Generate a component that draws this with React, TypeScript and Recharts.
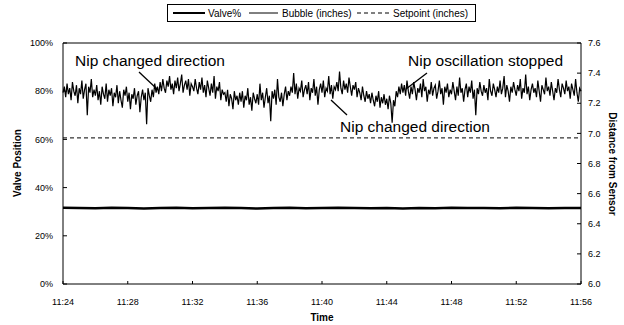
import { LineChart, Line, XAxis, YAxis, ReferenceLine } from 'recharts';

// minutes after 11:24, tick labels every 4 minutes
const TIME_TICKS = [0, 4, 8, 12, 16, 20, 24, 28, 32];
const TIME_LABELS = ['11:24', '11:28', '11:32', '11:36', '11:40', '11:44', '11:48', '11:52', '11:56'];

const VALVE_TICKS = [0, 20, 40, 60, 80, 100];
const DIST_TICKS = [6.0, 6.2, 6.4, 6.6, 6.8, 7.0, 7.2, 7.4, 7.6];

// Valve% sampled every minute
const VALVE = [
  31.6, 31.5, 31.4, 31.6, 31.5, 31.3, 31.5, 31.6, 31.4, 31.5, 31.6,
  31.5, 31.3, 31.5, 31.6, 31.4, 31.5, 31.6, 31.5, 31.4, 31.5, 31.3,
  31.5, 31.4, 31.6, 31.5, 31.5, 31.4, 31.6, 31.5, 31.4, 31.5, 31.5,
];

// Bubble (inches) sampled every 5 seconds, one row per minute
const BUBBLE = [
  7.27, 7.31, 7.24, 7.33, 7.26, 7.30, 7.22, 7.34, 7.28, 7.25, 7.32, 7.20,
  7.30, 7.26, 7.35, 7.23, 7.29, 7.33, 7.12, 7.31, 7.27, 7.36, 7.24, 7.29,
  7.25, 7.32, 7.22, 7.28, 7.19, 7.31, 7.26, 7.23, 7.33, 7.21, 7.29, 7.25,
  7.30, 7.18, 7.27, 7.24, 7.32, 7.20, 7.28, 7.22, 7.17, 7.29, 7.25, 7.31,
  7.21, 7.27, 7.16, 7.26, 7.23, 7.30, 7.19, 7.25, 7.28, 7.14, 7.24, 7.29,
  7.22, 7.27, 7.06, 7.30, 7.25, 7.21, 7.29, 7.24, 7.33, 7.27, 7.31, 7.26,
  7.34, 7.28, 7.36, 7.30, 7.27, 7.35, 7.31, 7.38, 7.29, 7.33, 7.26, 7.35,
  7.30, 7.37, 7.28, 7.33, 7.39, 7.27, 7.32, 7.35, 7.29, 7.36, 7.25, 7.33,
  7.31, 7.28, 7.36, 7.30, 7.26, 7.34, 7.29, 7.37, 7.27, 7.32, 7.24, 7.35,
  7.30, 7.25, 7.33, 7.27, 7.38, 7.23, 7.31, 7.28, 7.34, 7.22, 7.29, 7.26,
  7.27, 7.21, 7.29, 7.18, 7.26, 7.23, 7.16, 7.28, 7.22, 7.25, 7.19, 7.27,
  7.21, 7.28, 7.17, 7.25, 7.22, 7.30, 7.19, 7.24, 7.15, 7.27, 7.23, 7.20,
  7.26, 7.19, 7.33, 7.22, 7.27, 7.17, 7.24, 7.30, 7.20, 7.25, 7.08, 7.28,
  7.23, 7.29, 7.19, 7.36, 7.24, 7.21, 7.27, 7.18, 7.26, 7.31, 7.22, 7.28,
  7.25, 7.31, 7.27, 7.40, 7.26, 7.33, 7.23, 7.30, 7.28, 7.35, 7.24, 7.29,
  7.32, 7.26, 7.34, 7.22, 7.30, 7.27, 7.36, 7.25, 7.31, 7.19, 7.29, 7.33,
  7.27, 7.35, 7.24, 7.30, 7.28, 7.38, 7.26, 7.32, 7.23, 7.31, 7.29, 7.34,
  7.28, 7.41, 7.30, 7.26, 7.35, 7.29, 7.33, 7.27, 7.37, 7.31, 7.25, 7.32,
  7.29, 7.34, 7.24, 7.30, 7.27, 7.22, 7.31, 7.25, 7.21, 7.28, 7.23, 7.26,
  7.20, 7.27, 7.22, 7.18, 7.25, 7.21, 7.28, 7.17, 7.24, 7.20, 7.26, 7.19,
  7.23, 7.16, 7.25, 7.20, 7.07, 7.22, 7.18, 7.28, 7.24, 7.31, 7.26, 7.33,
  7.27, 7.32, 7.25, 7.35, 7.28, 7.23, 7.31, 7.26, 7.34, 7.29, 7.22, 7.30,
  7.27, 7.33, 7.24, 7.36, 7.28, 7.31, 7.21, 7.29, 7.26, 7.34, 7.25, 7.30,
  7.32, 7.23, 7.28, 7.35, 7.26, 7.30, 7.19, 7.31, 7.27, 7.33, 7.24, 7.29,
  7.26, 7.34, 7.28, 7.22, 7.31, 7.25, 7.37, 7.27, 7.30, 7.21, 7.29, 7.33,
  7.24, 7.31, 7.27, 7.35, 7.23, 7.29, 7.12, 7.30, 7.26, 7.34, 7.28, 7.25,
  7.32, 7.27, 7.30, 7.22, 7.36, 7.28, 7.25, 7.33, 7.29, 7.24, 7.31, 7.27,
  7.35, 7.26, 7.30, 7.38, 7.24, 7.32, 7.28, 7.21, 7.31, 7.27, 7.34, 7.29,
  7.25, 7.32, 7.28, 7.36, 7.23, 7.30, 7.27, 7.39, 7.26, 7.31, 7.22, 7.29,
  7.33, 7.27, 7.30, 7.24, 7.35, 7.28, 7.21, 7.32, 7.29, 7.26, 7.37, 7.28,
  7.31, 7.25, 7.34, 7.28, 7.22, 7.30, 7.27, 7.36, 7.29, 7.24, 7.33, 7.30,
  7.26, 7.35, 7.28, 7.31, 7.23, 7.33, 7.29, 7.25, 7.36, 7.27, 7.21, 7.30,
  7.28,
];

const SETPOINT = 6.97;

const valveData = VALVE.map((v, i) => ({ t: i, valve: v }));
const bubbleData = BUBBLE.map((v, i) => ({ t: i / 12, bubble: v }));
const setpointData = [
  { t: 0, setpoint: SETPOINT },
  { t: 32, setpoint: SETPOINT },
];

const FONT = 'Liberation Sans, Arial, sans-serif';

function LeftTick(props: any) {
  const { x, y, payload } = props;
  return (
    <g>
      <line x1={x + 10} x2={x + 14} y1={y} y2={y} stroke="#000" />
      <text x={x} y={y} dy="0.35em" textAnchor="end" fontSize={9} fontFamily={FONT} fill="#000">
        {payload.value}%
      </text>
    </g>
  );
}

function RightTick(props: any) {
  const { x, y, payload } = props;
  return (
    <g>
      <line x1={x - 7} x2={x - 11} y1={y} y2={y} stroke="#000" />
      <text x={x} y={y} dy="0.35em" textAnchor="start" fontSize={9} fontFamily={FONT} fill="#000">
        {Number(payload.value).toFixed(1)}
      </text>
    </g>
  );
}

function BottomTick(props: any) {
  const { x, y, payload } = props;
  const idx = TIME_TICKS.indexOf(payload.value);
  return (
    <g>
      <line x1={x} x2={x} y1={y - 10} y2={y - 13} stroke="#000" />
      <text x={x} y={y + 11} textAnchor="middle" fontSize={9} fontFamily={FONT} fill="#000">
        {TIME_LABELS[idx]}
      </text>
    </g>
  );
}

function Overlay() {
  return (
    <svg width={624} height={325} style={{ position: 'absolute', left: 0, top: 0, pointerEvents: 'none' }}>
      <g fontFamily={FONT} fill="#000">
        <rect x={167.5} y={4.5} width={308} height={17} fill="#fff" stroke="#000" />
        <line x1={173} x2={205} y1={13} y2={13} stroke="#000" strokeWidth={2} />
        <text x={208} y={16.5} fontSize={10}>Valve%</text>
        <line x1={249} x2={278} y1={13} y2={13} stroke="#000" strokeWidth={1} />
        <text x={282} y={16.5} fontSize={10}>Bubble (inches)</text>
        <line x1={357} x2={390} y1={13} y2={13} stroke="#000" strokeWidth={1} strokeDasharray="4 3" />
        <text x={393} y={16.5} fontSize={10}>Setpoint (inches)</text>

        <text x={17} y={163} fontSize={10} fontWeight="bold" textAnchor="middle" dy="0.35em" transform="rotate(-90 17 163)">
          Valve Position
        </text>
        <text x={612} y={164} fontSize={10} fontWeight="bold" textAnchor="middle" dy="0.35em" transform="rotate(90 612 164)">
          Distance from Sensor
        </text>
        <text x={322} y={321} fontSize={10} fontWeight="bold" textAnchor="middle">Time</text>

        <text x={75} y={65.5} fontSize={15.5}>Nip changed direction</text>
        <line x1={139} y1={72} x2={157} y2={89} stroke="#000" strokeWidth={1.3} />
        <text x={408} y={66} fontSize={15.5}>Nip oscillation stopped</text>
        <line x1={427} y1={73} x2={406} y2={89} stroke="#000" strokeWidth={1.3} />
        <text x={340} y={132} fontSize={15.5}>Nip changed direction</text>
        <line x1={347} y1={115} x2={331} y2={100} stroke="#000" strokeWidth={1.3} />
      </g>
    </svg>
  );
}

export default function App() {
  return (
    <div style={{ position: 'relative', width: 624, height: 325, background: '#fff' }}>
      <style>{'body{margin:0}'}</style>
      <LineChart width={624} height={325} margin={{ top: 43, right: 0, bottom: 0, left: 0 }}>
        <XAxis
          dataKey="t"
          type="number"
          domain={[0, 32]}
          ticks={TIME_TICKS}
          interval={0}
          height={41}
          tickSize={0}
          tickMargin={10}
          tickLine={false}
          axisLine={{ stroke: '#000' }}
          tick={<BottomTick />}
          allowDuplicatedCategory={false}
        />
        <YAxis
          yAxisId="left"
          domain={[0, 100]}
          ticks={VALVE_TICKS}
          interval={0}
          width={63}
          tickSize={0}
          tickMargin={10}
          tickLine={false}
          axisLine={{ stroke: '#000' }}
          tick={<LeftTick />}
        />
        <YAxis
          yAxisId="right"
          orientation="right"
          domain={[6, 7.6]}
          ticks={DIST_TICKS}
          interval={0}
          width={43}
          tickSize={0}
          tickMargin={7}
          tickLine={false}
          axisLine={{ stroke: '#000' }}
          tick={<RightTick />}
        />
        <ReferenceLine yAxisId="left" y={100} stroke="#000" />
        <Line
          yAxisId="right"
          data={setpointData}
          dataKey="setpoint"
          stroke="#000"
          strokeWidth={1}
          strokeDasharray="4 3"
          dot={false}
          activeDot={false}
          isAnimationActive={false}
        />
        <Line
          yAxisId="right"
          data={bubbleData}
          dataKey="bubble"
          type="linear"
          stroke="#000"
          strokeWidth={1.2}
          dot={false}
          activeDot={false}
          isAnimationActive={false}
        />
        <Line
          yAxisId="left"
          data={valveData}
          dataKey="valve"
          type="linear"
          stroke="#000"
          strokeWidth={2.5}
          dot={false}
          activeDot={false}
          isAnimationActive={false}
        />
      </LineChart>
      <Overlay />
    </div>
  );
}
